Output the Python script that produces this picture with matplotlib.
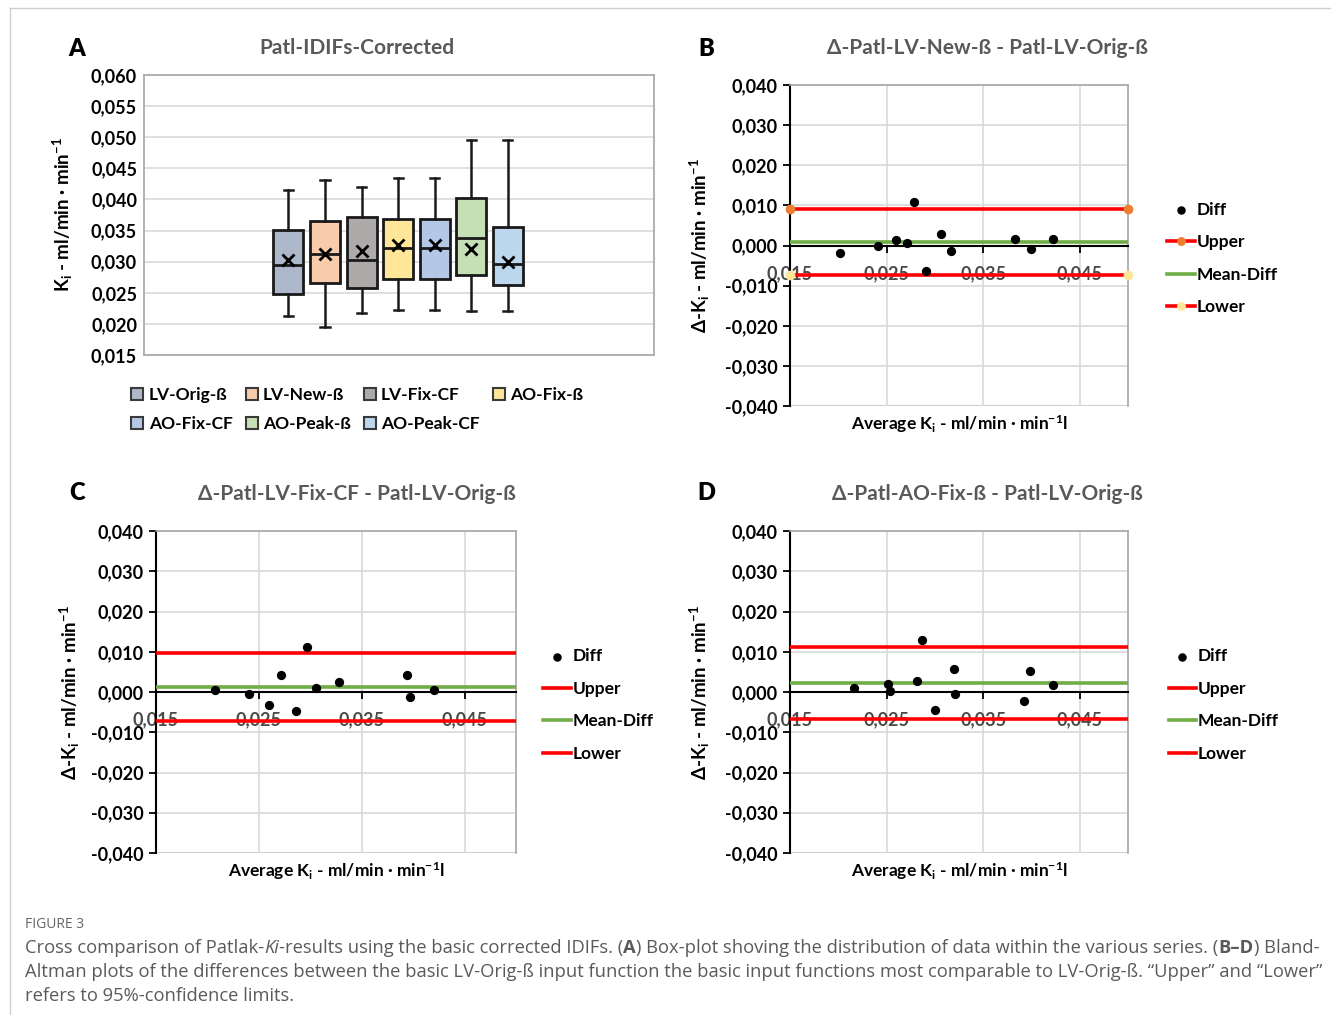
import numpy as np
import matplotlib
matplotlib.use("Agg")
import matplotlib.pyplot as plt
from matplotlib.lines import Line2D
from matplotlib.ticker import FuncFormatter, MultipleLocator, FixedLocator

plt.rcParams['font.family'] = ['Lato', 'DejaVu Sans']
plt.rcParams['font.weight'] = 'bold'
plt.rcParams['axes.titleweight'] = 'bold'
plt.rcParams['axes.labelweight'] = 'bold'
plt.rcParams['mathtext.fontset'] = 'custom'
plt.rcParams['mathtext.rm'] = 'Lato:bold'
plt.rcParams['mathtext.it'] = 'Lato:bold:italic'
plt.rcParams['mathtext.bf'] = 'Lato:bold'

# Panel A - box plot values (Ki, ml/min/min)
series = ['LV-Orig-ß', 'LV-New-ß', 'LV-Fix-CF', 'AO-Fix-ß', 'AO-Fix-CF', 'AO-Peak-ß', 'AO-Peak-CF']
box_colors = ['#adb9ca', '#f8cbad', '#aeaaaa', '#ffe699', '#b4c7e7', '#c5e0b4', '#bdd7ee']
whis_lo = [0.0213, 0.0195, 0.0217, 0.0222, 0.0222, 0.0220, 0.0220]
q1 = [0.0248, 0.0265, 0.0258, 0.0272, 0.0272, 0.0278, 0.0262]
med = [0.0294, 0.0312, 0.0303, 0.0322, 0.0322, 0.0338, 0.0297]
q3 = [0.0351, 0.0365, 0.0371, 0.0369, 0.0369, 0.0402, 0.0356]
whis_hi = [0.0415, 0.0432, 0.0420, 0.0434, 0.0434, 0.0496, 0.0496]
means = [0.0303, 0.0312, 0.0317, 0.0326, 0.0326, 0.0320, 0.0300]

# Panel B
b_avg = [0.0202, 0.0241, 0.0260, 0.0271, 0.0278, 0.0291, 0.0306, 0.0317, 0.0383, 0.0400, 0.0422]
b_diff = [-0.0019, -0.0001, 0.0013, 0.0007, 0.0109, -0.0064, 0.0029, -0.0013, 0.0016, -0.0008, 0.0016]
b_limits = [0.0090, 0.0008, -0.0074]  # upper, mean, lower

# Panel C
c_avg = [0.0207, 0.0240, 0.0260, 0.0272, 0.0286, 0.0297, 0.0306, 0.0328, 0.0394, 0.0397, 0.0420]
c_diff = [0.0005, -0.0005, -0.0032, 0.0043, -0.0046, 0.0112, 0.0010, 0.0026, 0.0041, -0.0012, 0.0006]
c_limits = [0.0097, 0.0012, -0.0071]

# Panel D
d_avg = [0.0216, 0.0251, 0.0254, 0.0281, 0.0287, 0.0300, 0.0320, 0.0321, 0.0392, 0.0399, 0.0422]
d_diff = [0.0010, 0.0020, 0.0003, 0.0027, 0.0130, -0.0044, 0.0058, -0.0004, -0.0023, 0.0051, 0.0018]
d_limits = [0.0113, 0.0022, -0.0068]

x_range = [0.015, 0.050]
x_ticks = [0.015, 0.025, 0.035, 0.045]

W, H = 1331, 1015
fig = plt.figure(figsize=(W / 100, H / 100), dpi=100)


def rect(left, top, right, bottom):
    return [left / W, 1 - bottom / H, (right - left) / W, (bottom - top) / H]


def comma(v, pos=None):
    if abs(v) < 1e-9:
        v = 0.0
    return f"{v:.3f}".replace('.', ',')


title_color = '#595959'
frame_color = '#a6a6a6'
grid_color = '#d9d9d9'

# ---------------- Panel A ----------------
axA = fig.add_axes(rect(144, 75, 654, 355))
stats = []
for i in range(len(series)):
    stats.append(dict(med=med[i], q1=q1[i], q3=q3[i], whislo=whis_lo[i], whishi=whis_hi[i],
                      mean=means[i], fliers=[], label=series[i]))
positions = np.arange(1, len(series) + 1)
bp = axA.bxp(stats, positions=positions, widths=0.82, patch_artist=True, showmeans=True,
             capwidths=0.25,
             meanprops=dict(marker='x', markeredgecolor='black', markersize=8, markeredgewidth=2),
             boxprops=dict(linewidth=2, edgecolor='#1a1a1a'),
             whiskerprops=dict(linewidth=1.8, color='#1a1a1a'),
             capprops=dict(linewidth=1.8, color='#1a1a1a'),
             medianprops=dict(color='#1a1a1a', linewidth=2))
for patch, c in zip(bp['boxes'], box_colors):
    patch.set_facecolor(c)
axA.set_xlim(-2.95, 11.0)
axA.set_ylim(0.015, 0.060)
axA.yaxis.set_major_locator(MultipleLocator(0.005))
axA.yaxis.set_major_formatter(FuncFormatter(comma))
axA.set_xticks([])
axA.tick_params(axis='y', length=0, pad=5, labelsize=13)
axA.grid(axis='y', color=grid_color, linewidth=1.2)
axA.set_axisbelow(True)
for s in axA.spines.values():
    s.set_color(frame_color)
    s.set_linewidth(1.2)
axA.set_ylabel('K$_\\mathrm{i}$ - ml/min · min$^\\mathrm{-1}$', fontsize=13.5)
axA.yaxis.set_label_coords(-0.135, 0.5)
axA.set_title('Patl-IDIFs-Corrected', fontsize=15, color=title_color, pad=15, x=0.418)

leg_order = [0, 4, 1, 5, 2, 6, 3]
handles = [Line2D([], [], marker='s', ls='', markerfacecolor=box_colors[i], markeredgecolor='#3a3a3a',
                  markersize=9, markeredgewidth=1.5) for i in leg_order]
axA.legend(handles, [series[i] for i in leg_order], ncol=4, loc='upper left',
           bbox_to_anchor=(-0.025, -0.115), frameon=False, fontsize=12.5, borderpad=0,
           borderaxespad=0, handlelength=0.7, handletextpad=0.3, columnspacing=0.75,
           labelspacing=0.75)


# ---------------- Bland-Altman panels ----------------
def ba_panel(box, avg, diff, limits, title, title_x, ylab_x, leg_x, end_markers):
    ax = fig.add_axes(rect(*box))
    upper, mean_d, lower = limits
    ax.set_xlim(*x_range)
    ax.set_ylim(-0.040, 0.040)
    ax.set_axisbelow(True)
    ax.grid(True, color=grid_color, linewidth=1.2)
    ax.yaxis.set_major_locator(MultipleLocator(0.010))
    ax.yaxis.set_major_formatter(FuncFormatter(comma))
    ax.xaxis.set_major_locator(FixedLocator(x_ticks))
    ax.xaxis.set_major_formatter(FuncFormatter(comma))
    ax.spines['bottom'].set_position(('data', 0))
    ax.spines['bottom'].set_color('black')
    ax.spines['bottom'].set_linewidth(1.5)
    ax.spines['left'].set_color('black')
    ax.spines['left'].set_linewidth(1.5)
    for side in ['top', 'right']:
        ax.spines[side].set_color(frame_color)
        ax.spines[side].set_linewidth(1.2)
    ax.axhline(-0.040, color=frame_color, linewidth=1.5, zorder=0.4)
    ax.tick_params(axis='y', length=5, width=1.3, pad=4, labelsize=13)
    ax.tick_params(axis='x', length=5, width=1.3, pad=9, labelsize=13, labelcolor='#4a4a4a')

    ax.scatter(avg, diff, s=32, color='black', zorder=5, label='Diff')
    if end_markers:
        ax.plot(x_range, [upper, upper], color='#ff0000', lw=2.6, marker='o', markersize=6,
                markerfacecolor='#ed7d31', markeredgecolor='#ed7d31', clip_on=False, zorder=4, label='Upper')
    else:
        ax.plot(x_range, [upper, upper], color='#ff0000', lw=2.6, zorder=4, label='Upper')
    ax.plot(x_range, [mean_d, mean_d], color='#70ad47', lw=2.6, zorder=4, label='Mean-Diff')
    if end_markers:
        ax.plot(x_range, [lower, lower], color='#ff0000', lw=2.6, marker='o', markersize=6,
                markerfacecolor='#ffe699', markeredgecolor='#ffe699', clip_on=False, zorder=4, label='Lower')
    else:
        ax.plot(x_range, [lower, lower], color='#ff0000', lw=2.6, zorder=4, label='Lower')

    ax.set_ylabel('Δ-K$_\\mathrm{i}$ - ml/min · min$^\\mathrm{-1}$', fontsize=13.5)
    ax.yaxis.set_label_coords(ylab_x, 0.5)
    ax.set_xlabel('Average K$_\\mathrm{i}$ - ml/min · min$^\\mathrm{-1}$l', fontsize=12.5)
    ax.xaxis.set_label_coords(0.5, -0.022)
    ax.set_title(title, fontsize=15, color=title_color, pad=22, x=title_x)
    ax.legend(loc='center left', bbox_to_anchor=(leg_x, 0.46), frameon=False, fontsize=12.5,
              borderpad=0, borderaxespad=0, handlelength=1.6, handletextpad=0.1, labelspacing=0.95,
              markerscale=0.9)
    return ax


axB = ba_panel((790, 85, 1128, 406), b_avg, b_diff, b_limits, 'Δ-Patl-LV-New-ß - Patl-LV-Orig-ß',
               0.583, -0.23, 1.115, True)
axC = ba_panel((156, 531, 516, 853), c_avg, c_diff, c_limits, 'Δ-Patl-LV-Fix-CF - Patl-LV-Orig-ß',
               0.558, -0.205, 1.075, False)
axD = ba_panel((790, 531, 1128, 853), d_avg, d_diff, d_limits, 'Δ-Patl-AO-Fix-ß - Patl-LV-Orig-ß',
               0.583, -0.23, 1.12, False)

# panel letters
for letter, (px, py) in zip('ABCD', [(77, 49), (706, 49), (77, 493), (706, 493)]):
    fig.text(px / W, 1 - py / H, letter, fontsize=17, fontweight='heavy', ha='center', va='center',
             family=['Lato', 'DejaVu Sans'])

# frame lines of the figure page
fig.add_artist(Line2D([10 / W, 1], [1 - 8 / H, 1 - 8 / H], color='#cfcfcf', lw=1))
fig.add_artist(Line2D([10 / W, 10 / W], [0, 1 - 8 / H], color='#cfcfcf', lw=1))

# caption
cap = fig.add_axes([0, 0, 1, 1])
cap.axis('off')
cap_font = dict(family=['Open Sans', 'DejaVu Sans'], fontweight='normal', color='#5a5a5a', fontsize=13.2)
cap.text(25 / W, 1 - 925 / H, 'FIGURE 3', va='center', family=['Open Sans', 'DejaVu Sans'],
         fontweight='normal', color='#666666', fontsize=10)

line1 = [('Cross comparison of Patlak-', 'normal', 'normal'), ('Ki', 'normal', 'italic'),
         ('-results using the basic corrected IDIFs. (', 'normal', 'normal'), ('A', 'bold', 'normal'),
         (') Box-plot shoving the distribution of data within the various series. (', 'normal', 'normal'),
         ('B–D', 'bold', 'normal'), (') Bland-', 'normal', 'normal')]
prev = None
for txt, wgt, sty in line1:
    kw = dict(cap_font)
    kw['fontweight'] = wgt
    kw['fontstyle'] = sty
    if prev is None:
        prev = cap.text(25 / W, 1 - 957 / H, txt, va='bottom', ha='left', **kw)
    else:
        prev = cap.annotate(txt, xy=(1, 0), xycoords=prev, va='bottom', ha='left', **kw)
cap.text(25 / W, 1 - 981 / H, 'Altman plots of the differences between the basic LV-Orig-ß input function the basic '
         'input functions most comparable to LV-Orig-ß. “Upper” and “Lower”', va='bottom', ha='left', **cap_font)
cap.text(25 / W, 1 - 1005 / H, 'refers to 95%-confidence limits.', va='bottom', ha='left', **cap_font)

fig.savefig('out.png', dpi=100)
